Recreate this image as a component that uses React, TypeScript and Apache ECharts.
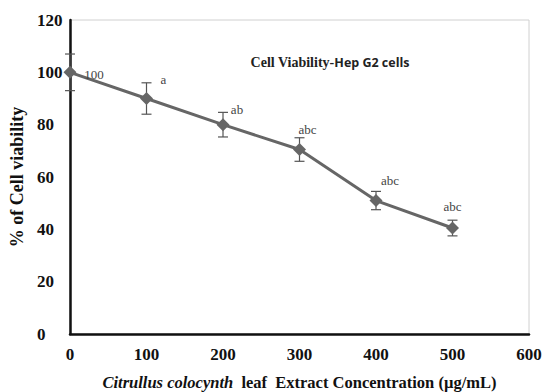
import React, { useEffect, useRef } from "react";
import * as echarts from "echarts";

const concentrations = [0, 100, 200, 300, 400, 500];
const viability = [100, 90, 80, 70.5, 51, 40.5];
const errors = [7, 6, 4.7, 4.5, 3.5, 3];
const sigLabels = ["100", "a", "ab", "abc", "abc", "abc"];
const labelOffsets: [number, number][] = [[24, 2], [17, -19], [14, -15], [8, -20], [14, -20], [0, -22]];
const yTicks = [0, 20, 40, 60, 80, 100, 120];

export default function App() {
  const ref = useRef<HTMLDivElement>(null);
  useEffect(() => {
    const chart = echarts.init(ref.current!, null, { renderer: "svg" });
    const serif = "'Liberation Serif', 'Times New Roman', serif";
    chart.setOption({
      animation: false,
      title: {
        text: "{s|Cell Viability-}{c|Hep G2 cells}",
        left: 325,
        top: 50,
        textAlign: "center",
        textStyle: {
          rich: {
            s: { fontFamily: serif, fontSize: 14, fontWeight: "bold", color: "#222" },
            c: { fontFamily: "'Open Sans', sans-serif", fontSize: 12.5, fontWeight: "bold", color: "#222" },
          },
        },
      },
      grid: {
        left: 70,
        right: 21,
        top: 20,
        bottom: 58,
        containLabel: false,
        outerBoundsMode: "none",
        show: true,
        borderColor: "#d0d0d0",
        borderWidth: 1,
        backgroundColor: "transparent",
      },
      xAxis: {
        type: "value",
        min: 0,
        max: 600,
        interval: 100,
        axisLine: { show: true, onZero: false, lineStyle: { color: "#111", width: 2.5 } },
        axisTick: { show: false },
        splitLine: { show: false },
        axisLabel: { fontFamily: serif, fontSize: 17, fontWeight: "bold", color: "#111", margin: 12 },
        name: "{i|Citrullus colocynth}{b|  leaf  Extract Concentration (µg/mL)}",
        nameLocation: "middle",
        nameGap: 40,
        nameTextStyle: {
          rich: {
            i: { fontFamily: serif, fontSize: 16.5, fontStyle: "italic", fontWeight: "bold", color: "#111" },
            b: { fontFamily: serif, fontSize: 16.5, fontWeight: "bold", color: "#111" },
          },
        },
      },
      yAxis: {
        type: "value",
        min: 0,
        max: 120,
        interval: 20,
        axisLine: { show: true, lineStyle: { color: "#111", width: 2.5 } },
        axisTick: { show: false },
        splitLine: { show: false },
        axisLabel: {
          fontFamily: serif,
          fontSize: 17,
          fontWeight: "bold",
          color: "#111",
          margin: 33,
          align: "left",
          formatter: (v: number) => (yTicks.includes(v) ? String(v) : ""),
        },
        name: "% of Cell viability",
        nameLocation: "middle",
        nameGap: 36,
        nameTextStyle: { fontFamily: serif, fontSize: 18, fontWeight: "bold", color: "#111" },
      },
      series: [
        {
          type: "custom",
          renderItem: (params: any, api: any) => {
            const x = api.value(0);
            const y = api.value(1);
            const e = api.value(2);
            const top = api.coord([x, y + e]);
            const bot = api.coord([x, y - e]);
            const w = 5;
            const style = { stroke: "#555", lineWidth: 1.2 };
            return {
              type: "group",
              children: [
                { type: "line", shape: { x1: top[0], y1: top[1], x2: bot[0], y2: bot[1] }, style },
                { type: "line", shape: { x1: top[0] - w, y1: top[1], x2: top[0] + w, y2: top[1] }, style },
                { type: "line", shape: { x1: bot[0] - w, y1: bot[1], x2: bot[0] + w, y2: bot[1] }, style },
              ],
            };
          },
          data: concentrations.map((c, i) => [c, viability[i], errors[i]]),
          z: 3,
        },
        {
          type: "line",
          data: concentrations.map((c, i) => ({
            value: [c, viability[i]],
            label: { offset: labelOffsets[i] },
          })),
          symbol: "diamond",
          symbolSize: 13,
          lineStyle: { color: "#666", width: 3 },
          itemStyle: { color: "#666" },
          label: {
            show: true,
            position: "inside",
            formatter: (p: any) => sigLabels[p.dataIndex],
            fontFamily: serif,
            fontSize: 13,
            color: "#444",
            textBorderWidth: 0,
          },
          z: 4,
        },
      ],
    });
    return () => chart.dispose();
  }, []);
  return <div ref={ref} style={{ width: 550, height: 392, position: "absolute", left: 0, top: 0, background: "#fff" }} />;
}
